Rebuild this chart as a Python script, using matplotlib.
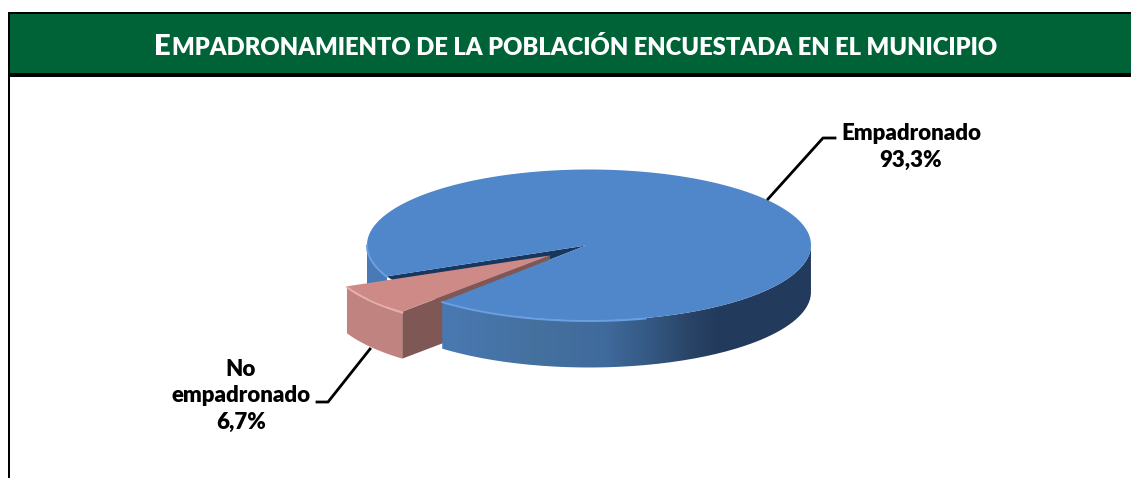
import matplotlib
matplotlib.use("Agg")
import matplotlib.pyplot as plt
import numpy as np
from matplotlib.colors import LinearSegmentedColormap
from matplotlib.patches import PathPatch, Polygon, Rectangle
from matplotlib.path import Path

categories = ["Empadronado", "No\nempadronado"]
percentages = [93.3, 6.7]
value_labels = ["93,3%", "6,7%"]
title_first = "E"
title_rest = "MPADRONAMIENTO DE LA POBLACIÓN ENCUESTADA EN EL MUNICIPIO"

FONT = "Lato"
GREEN = "#006338"
cx, cy, rx, ry = 589, 245, 222, 75.5
depth = 47
start_angle = 204.5
explode = (-40, 10)


def rim(angles, dx=0, dy=0):
    t = np.radians(angles)
    return np.column_stack([cx + rx * np.cos(t) + dx, cy - ry * np.sin(t) + dy])


def side_band(angles, dx=0, dy=0):
    top = rim(angles, dx, dy)
    bottom = rim(angles[::-1], dx, dy + depth)
    return np.vstack([top, bottom])


fig = plt.figure(figsize=(11.31, 4.78), dpi=100)
ax = fig.add_axes([0, 0, 1, 1])
ax.set_axis_off()

# header and frame
ax.add_patch(Rectangle((9, 14), 1122, 59, color=GREEN, lw=0))
ax.add_patch(Rectangle((8, 12), 1123, 2, color="black", lw=0))
ax.add_patch(Rectangle((8, 73), 1123, 3.5, color="black", lw=0))
ax.add_patch(Rectangle((8, 12), 2, 466, color="black", lw=0))

# slice angles come from the values
small_sweep = percentages[1] * 3.6
small_end = start_angle + small_sweep
big_angles = np.linspace(small_end, start_angle + 360, 300)
small_angles = np.linspace(start_angle, small_end, 40)
apex = np.array([[cx - 3, cy + 0.5]])
dx, dy = explode
small_apex = apex + [-36, dy]

# back part of the big slice side, left of the gap
left_angles = np.linspace(180, start_angle, 30)
ax.add_patch(Polygon(side_band(left_angles), color="#4a7ab5", lw=0, zorder=2))

# dark gap left by the pulled-out slice
ax.add_patch(Polygon(np.vstack([apex, rim(small_angles)]), color="#17375e", lw=0, zorder=3))

# pulled-out slice
small_top = np.vstack([small_apex, rim(small_angles, dx, dy)])
outer_end = rim(np.array([small_end]), dx, dy)
cut_face = np.vstack([small_apex, outer_end, outer_end + [0, depth], small_apex + [0, depth]])
ax.add_patch(Polygon(cut_face, color="#7f5754", lw=0, zorder=4))
ax.add_patch(Polygon(side_band(small_angles, dx, dy), color="#c0837f", lw=0, zorder=4))
ax.add_patch(Polygon(small_top, color="#cd8a86", lw=0, zorder=5))
rim_small = rim(small_angles, dx, dy + 1)
ax.plot(rim_small[:, 0], rim_small[:, 1], color="#e8aeaa", lw=1.4, zorder=6)

# front side of the big slice with its horizontal gradient
front_angles = big_angles[big_angles <= 360]
front_path = Path(side_band(front_angles), closed=False)
side_cmap = LinearSegmentedColormap.from_list(
    "side",
    [(0, "#4a79b3"), (0.25, "#45719f"), (0.45, "#3f6a9c"), (0.57, "#345882"),
     (0.67, "#2a4568"), (0.75, "#233a5c"), (1, "#223a5c")],
)
gradient = ax.imshow(
    np.linspace(0, 1, 256)[None, :],
    extent=[cx - 150, cx + rx, cy + 130, cy],
    cmap=side_cmap,
    aspect="auto",
    zorder=7,
)
gradient.set_clip_path(PathPatch(front_path, transform=ax.transData))

# top of the big slice
ax.add_patch(Polygon(np.vstack([apex, rim(big_angles)]), color="#5087ca", lw=0, zorder=8))
# bevel highlight fades out towards the right
highlight_angles = front_angles[front_angles <= 285]
rim_front = rim(highlight_angles, 0, 0.5)
ax.plot(rim_front[:, 0], rim_front[:, 1], color="#6a9fe0", lw=1.4, zorder=9)
rim_left = rim(left_angles, 0, 0.5)
ax.plot(rim_left[:, 0], rim_left[:, 1], color="#6a9fe0", lw=1.4, zorder=9)

# leader lines
ax.plot([768, 823, 835], [199, 138, 138], color="black", lw=2, zorder=10)
ax.plot([370, 328, 317], [349, 402, 402], color="black", lw=2, zorder=3)

# labels
text_style = dict(ha="center", va="center", family=FONT, fontweight="heavy", fontsize=16,
                  color="black", linespacing=1.33)
ax.text(911, 147, f"{categories[0]}\n{value_labels[0]}", **text_style)
ax.text(241, 396, f"{categories[1]}\n{value_labels[1]}", **text_style)

# small-caps title: bigger first letter, rest placed right after it
ax.set_xlim(0, 1131)
ax.set_ylim(478, 0)
first = ax.text(154, 55, title_first, color="white", family=FONT, fontweight="heavy",
                fontsize=21, ha="left", va="baseline")
fig.canvas.draw()
first_right = first.get_window_extent().x1
first_right = ax.transData.inverted().transform((first_right, 0))[0]
ax.text(first_right + 1, 55, title_rest, color="white", family=FONT, fontweight="heavy",
        fontsize=17.15, ha="left", va="baseline")

fig.savefig("out.png", dpi=100)
plt.close(fig)
